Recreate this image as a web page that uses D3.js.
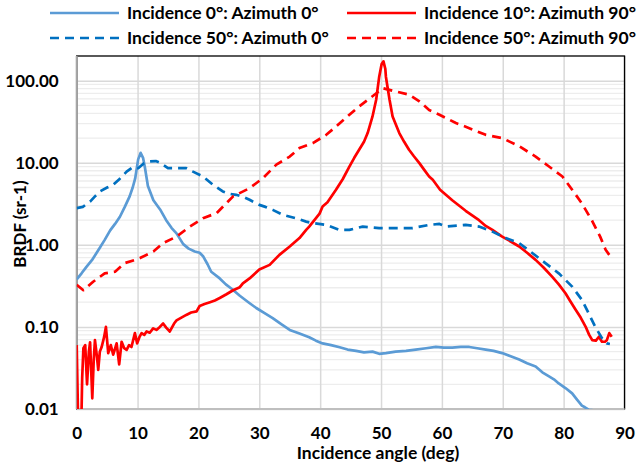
<!DOCTYPE html>
<html>
<head>
<meta charset="utf-8">
<script src="https://cdn.jsdelivr.net/npm/d3@7"></script>
<style>
    body { margin: 0; background: #fff; }
    text { font-family: Lato, "Open Sans", sans-serif; font-weight: bold; fill: #000; }
</style>
</head>
<body>
<div id="chart"></div>
<script>
// Series data: incidence angle (deg) and BRDF (sr-1)
const inc0az0Deg = [0, 0.8, 1.6, 2.5, 3.8, 4.6, 5.5, 6.3, 7.1, 7.9, 8.7, 9.2, 9.6, 10.1, 10.5, 10.9, 11.2, 11.7, 12.6, 13.7, 14.7, 15.6, 16.4, 17.5, 18.4, 19.4, 20.2, 20.8, 21.5, 22.1, 23.5, 24.5, 25.5, 26.8, 28.2, 29.5, 30.8, 32.2, 33.6, 35, 36.6, 38.2, 39.3, 40.4, 41.8, 43.2, 44.5, 45.9, 47.2, 48.6, 49.7, 50.8, 52.4, 54.1, 55.7, 57.4, 59, 60.3, 61.7, 63.1, 64.5, 65.8, 67.2, 68.5, 69.9, 71.3, 72.7, 74, 75.4, 76.5, 77.6, 78.4, 79.2, 80.3, 81.4, 82.2, 83, 83.5, 84.1, 85.5];
const inc0az0Val = [0.38, 0.45, 0.54, 0.65, 0.92, 1.15, 1.5, 1.8, 2.2, 2.9, 3.9, 5.0, 6.4, 11.0, 13.2, 11.5, 8.8, 5.2, 3.5, 2.7, 2.0, 1.6, 1.38, 1.02, 0.9, 0.83, 0.8, 0.72, 0.58, 0.47, 0.39, 0.33, 0.29, 0.24, 0.2, 0.17, 0.148, 0.128, 0.108, 0.092, 0.083, 0.075, 0.068, 0.063, 0.06, 0.0565, 0.053, 0.051, 0.049, 0.05, 0.047, 0.048, 0.05, 0.051, 0.053, 0.055, 0.057, 0.056, 0.056, 0.057, 0.057, 0.055, 0.053, 0.051, 0.048, 0.044, 0.04, 0.036, 0.033, 0.028, 0.025, 0.023, 0.0205, 0.018, 0.0155, 0.013, 0.011, 0.0105, 0.0098, 0.0095];

const inc10az90Deg = [0, 0.3, 0.7, 0.9, 1.1, 1.4, 1.7, 2.0, 2.2, 2.56, 2.8, 3.0, 3.3, 3.54, 3.8, 4.1, 4.5, 4.8, 5.18, 5.6, 6.0, 6.56, 6.98, 7.38, 7.8, 8.2, 8.6, 9.0, 9.56, 9.93, 10.3, 10.66, 11.1, 11.48, 12.0, 12.56, 13.1, 13.66, 14.2, 14.7, 15.3, 16.0, 16.4, 17.2, 18.0, 18.8, 19.7, 20.2, 21.0, 21.9, 22.7, 23.5, 24.6, 25.7, 26.8, 27.3, 28.4, 30.0, 31.7, 33.3, 35.0, 36.6, 37.7, 38.2, 39.9, 40.4, 41.2, 42.6, 43.7, 44.8, 45.6, 46.4, 47.2, 47.8, 48.6, 49.2, 49.7, 50.1, 50.4, 50.7, 50.8, 51.4, 51.9, 53.0, 53.8, 54.6, 55.4, 56.3, 57.1, 57.9, 58.5, 59.7, 61.7, 63.9, 66.1, 67.2, 68.3, 69.9, 71.3, 72.7, 74.0, 75.4, 76.7, 78.1, 79.2, 80.3, 81.2, 82.0, 82.8, 83.6, 84.2, 84.7, 85.3, 85.8, 86.3, 86.8, 87.1, 87.5, 87.9];
const inc10az90Val = [0.06, 0.004, 0.004, 0.024, 0.055, 0.06, 0.02, 0.05, 0.065, 0.0135, 0.04, 0.069, 0.045, 0.03, 0.05, 0.057, 0.075, 0.1, 0.048, 0.06, 0.046, 0.063, 0.035, 0.066, 0.055, 0.0525, 0.06, 0.057, 0.084, 0.063, 0.075, 0.084, 0.08, 0.088, 0.085, 0.096, 0.092, 0.1, 0.11, 0.098, 0.088, 0.11, 0.12, 0.13, 0.14, 0.15, 0.155, 0.18, 0.19, 0.2, 0.21, 0.225, 0.25, 0.28, 0.305, 0.34, 0.39, 0.5, 0.57, 0.755, 0.955, 1.21, 1.52, 1.67, 2.4, 2.93, 3.3, 4.7, 6.3, 9.0, 11.5, 14.4, 18, 23, 36.7, 58.6, 112, 160, 172, 140, 112, 58.6, 36.7, 23, 18, 14.4, 12, 9.9, 8.2, 6.8, 6.2, 4.7, 3.5, 2.6, 2.0, 1.7, 1.52, 1.26, 1.1, 0.955, 0.8, 0.656, 0.53, 0.41, 0.33, 0.257, 0.2, 0.161, 0.13, 0.101, 0.08, 0.069, 0.068, 0.076, 0.066, 0.066, 0.069, 0.084, 0.076];

const inc50az0Deg = [0, 1, 2.2, 3, 3.8, 5, 6, 7, 8.2, 9.2, 10.1, 11, 12, 13, 13.7, 15, 16.4, 18, 19.1, 20.75, 22.4, 24, 25, 26.2, 27.5, 28.4, 30, 31, 32.2, 33.9, 36, 37.7, 38.8, 41, 43.2, 44.8, 47, 49.7, 52.4, 55.2, 57.9, 59.6, 60.7, 63.9, 66.1, 68.3, 70.5, 72.7, 74.9, 77, 79.2, 81.4, 83, 84.1, 85.2, 86.3, 87.1, 87.6];
const inc50az0Val = [2.8, 2.9, 3.37, 3.9, 4.47, 5.0, 5.4, 6.3, 7.8, 8.8, 8.6, 9.8, 10.4, 10.5, 10, 8.6, 8.6, 8.6, 7.8, 6.8, 5.4, 4.47, 4.2, 4.07, 3.8, 3.54, 3.07, 2.9, 2.67, 2.32, 2.11, 1.92, 1.84, 1.75, 1.52, 1.52, 1.67, 1.6, 1.6, 1.6, 1.75, 1.8, 1.67, 1.75, 1.67, 1.45, 1.21, 1.05, 0.79, 0.6, 0.45, 0.31, 0.214, 0.147, 0.1, 0.073, 0.063, 0.062];

const inc50az90Deg = [0, 1.1, 2.7, 4.6, 6.3, 7.9, 9.6, 10.4, 12.6, 14.2, 16.4, 18.6, 20.75, 23, 25.7, 28.4, 30.6, 32.8, 35, 36.6, 38.8, 41, 42.6, 44.8, 46.4, 48.6, 50.3, 52.4, 54.6, 56.3, 57.9, 59.6, 62.3, 64.5, 67.2, 69.9, 72.7, 75.4, 77.6, 79.8, 81.4, 83, 84.7, 86, 86.9, 87.5];
const inc50az90Val = [0.325, 0.28, 0.355, 0.45, 0.47, 0.6, 0.656, 0.69, 0.83, 1.05, 1.26, 1.67, 2.11, 2.44, 3.9, 4.9, 6.5, 9.5, 11.9, 15.1, 17.4, 21.9, 27.6, 38.5, 48.6, 64.6, 81, 74, 67.6, 56, 44, 38.5, 30.5, 26.4, 21.9, 20, 15.9, 11.9, 9, 6.8, 4.7, 3.2, 1.95, 1.26, 0.87, 0.755];

const xTicks = [0, 10, 20, 30, 40, 50, 60, 70, 80, 90];
const yTicks = [0.01, 0.1, 1, 10, 100];

const series = [
    { name: 'Incidence 0°: Azimuth 0°', deg: inc0az0Deg, val: inc0az0Val, color: '#5b9bd5', dash: null },
    { name: 'Incidence 10°: Azimuth 90°', deg: inc10az90Deg, val: inc10az90Val, color: '#ff0000', dash: null },
    { name: 'Incidence 50°: Azimuth 0°', deg: inc50az0Deg, val: inc50az0Val, color: '#0070c0', dash: '9,6' },
    { name: 'Incidence 50°: Azimuth 90°', deg: inc50az90Deg, val: inc50az90Val, color: '#ff0000', dash: '9,6' }
];

function createChart() {
    const W = 637, H = 467;
    const margin = { top: 56, right: 12.5, bottom: 58, left: 76.7 };
    const width = W - margin.left - margin.right;
    const height = H - margin.top - margin.bottom;

    const svg = d3.select('#chart')
        .append('svg')
        .attr('width', W)
        .attr('height', H);

    const g = svg.append('g')
        .attr('transform', `translate(${margin.left},${margin.top})`);

    // Scales
    const x = d3.scaleLinear().domain([0, 90]).range([0, width]);
    const y = d3.scaleLog().domain([0.01, 200]).range([height, 0]);

    // Minor grid lines (2..9 within each decade)
    const minor = [];
    for (let d = 0.01; d < 200; d *= 10) {
        for (let k = 2; k <= 9; k++) if (d * k < 200) minor.push(d * k);
    }
    g.append('g')
        .selectAll('line')
        .data(minor)
        .enter()
        .append('line')
        .attr('x1', 0).attr('x2', width)
        .attr('y1', d => y(d)).attr('y2', d => y(d))
        .style('stroke', '#ededed')
        .style('stroke-width', 1.3);

    // Major grid lines
    g.append('g')
        .call(d3.axisLeft(y).tickValues(yTicks).tickSize(-width).tickFormat(''))
        .call(s => s.select('.domain').remove())
        .selectAll('line')
        .style('stroke', '#d9d9d9')
        .style('stroke-width', 1.5);

    g.append('g')
        .attr('transform', `translate(0,${height})`)
        .call(d3.axisBottom(x).tickValues(xTicks).tickSize(-height).tickFormat(''))
        .call(s => s.select('.domain').remove())
        .selectAll('line')
        .style('stroke', '#d9d9d9')
        .style('stroke-width', 1.5);

    // Plot border
    g.append('rect')
        .attr('width', width)
        .attr('height', height)
        .style('fill', 'none')
        .style('stroke', '#000')
        .style('stroke-width', 1.3);

    // Axis lines
    g.append('line')
        .attr('x1', 0).attr('x2', 0).attr('y1', 0).attr('y2', height)
        .style('stroke', '#a6a6a6').style('stroke-width', 2);
    g.append('line')
        .attr('x1', 0).attr('x2', width).attr('y1', height).attr('y2', height)
        .style('stroke', '#bfbfbf').style('stroke-width', 2);

    // Tick labels
    g.append('g')
        .call(d3.axisLeft(y).tickValues(yTicks).tickSize(0).tickPadding(18).tickFormat(d3.format('.2f')))
        .call(s => s.select('.domain').remove())
        .selectAll('text')
        .style('font-size', '17px')
        .style('font-family', 'Lato, sans-serif');

    g.append('g')
        .attr('transform', `translate(0,${height})`)
        .call(d3.axisBottom(x).tickValues(xTicks).tickSize(0).tickPadding(18).tickFormat(d3.format('d')))
        .call(s => s.select('.domain').remove())
        .selectAll('text')
        .style('font-size', '17px')
        .style('font-family', 'Lato, sans-serif');

    // Lines
    g.append('clipPath')
        .attr('id', 'clip')
        .append('rect')
        .attr('width', width)
        .attr('height', height);

    const line = d3.line()
        .x(d => x(d[0]))
        .y(d => y(d[1]));

    g.append('g')
        .attr('clip-path', 'url(#clip)')
        .selectAll('path')
        .data(series)
        .enter()
        .append('path')
        .attr('d', s => line(s.deg.map((d, i) => [d, s.val[i]])))
        .style('fill', 'none')
        .style('stroke', s => s.color)
        .style('stroke-width', 2.7)
        .style('stroke-linejoin', 'round')
        .style('stroke-dasharray', s => s.dash);

    // Axis titles
    svg.append('text')
        .attr('x', 378)
        .attr('y', 459)
        .style('text-anchor', 'middle')
        .style('font-size', '17.5px')
        .text('Incidence angle (deg)');

    svg.append('text')
        .attr('transform', 'rotate(-90)')
        .attr('x', -224)
        .attr('y', 26)
        .style('text-anchor', 'middle')
        .style('font-size', '17px')
        .text('BRDF (sr-1)');

    // Legend
    const legendPos = [[50, 13], [347, 13], [50, 38], [347, 38]];
    const legend = svg.append('g')
        .selectAll('g')
        .data(series)
        .enter()
        .append('g')
        .attr('transform', (d, i) => `translate(${legendPos[i][0]},${legendPos[i][1]})`);

    legend.append('line')
        .attr('x1', 0).attr('x2', 69)
        .style('stroke', d => d.color)
        .style('stroke-width', 2.7)
        .style('stroke-dasharray', d => d.dash);

    legend.append('text')
        .attr('x', 77)
        .attr('dy', '0.35em')
        .style('font-size', '17.5px')
        .text(d => d.name);
}

createChart();
</script>
</body>
</html>
